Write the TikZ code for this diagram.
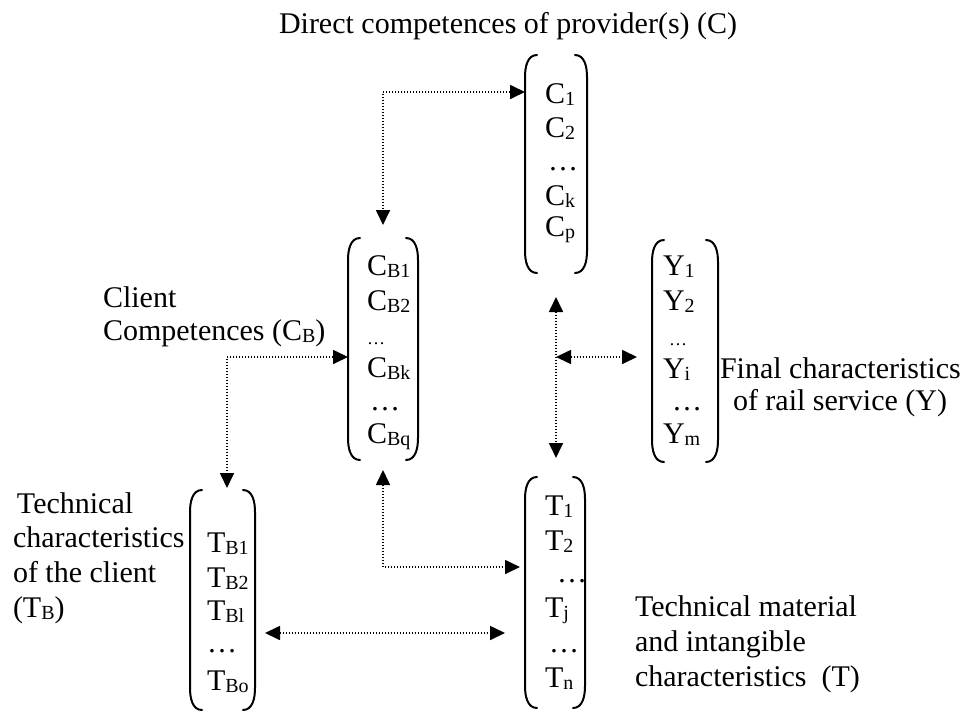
\documentclass[tikz,border=0pt]{standalone}
\usepackage{fontspec}
\setmainfont{Liberation Serif}
\usetikzlibrary{arrows.meta,fit}
\newcommand\mysub[1]{\raisebox{-1.2pt}{\fontsize{10}{10}\selectfont #1}}
\newcommand\smalldots{{\fontsize{9}{9}\selectfont …}}
\newcommand\vecbr[1]{%
  \draw[brk] ([xshift=6pt]#1.north west) to[out=180,in=90] ([yshift=-11pt]#1.north west)
    -- ([yshift=11pt]#1.south west) to[out=-90,in=180] ([xshift=6pt]#1.south west);
  \draw[brk] ([xshift=-6pt]#1.north east) to[out=0,in=90] ([yshift=-11pt]#1.north east)
    -- ([yshift=11pt]#1.south east) to[out=-90,in=0] ([xshift=-6pt]#1.south east);}
\begin{document}
\begin{tikzpicture}[x=0.5pt,y=-0.5pt,
  every node/.style={inner sep=0pt,outer sep=0pt,font=\fontsize{15}{17}\selectfont},
  item/.style={anchor=base west},
  lbl/.style={anchor=base west},
  box/.style={inner sep=0pt,draw=none},
  brk/.style={line width=1pt,line cap=round},
  conn/.style={line width=0.85pt,dash pattern=on 0.6pt off 0.9pt,
    {Triangle[length=7.5pt,width=7pt]}-{Triangle[length=7.5pt,width=7pt]}},
]
\useasboundingbox (0,0) rectangle (974,712);

% C vector
\node[box,fit={(525,55)(587,273)}] (C) {};
\vecbr{C}
\node[item] (c1) at (545,103) {C\mysub{1}};
\node[item] (c2) at (545,137) {C\mysub{2}};
\node[item] (c3) at (548,170) {…};
\node[item] (c4) at (545,205) {C\mysub{k}};
\node[item] (c5) at (545,236) {C\mysub{p}};

% CB vector
\node[box,fit={(348,238)(418,460)}] (CB) {};
\vecbr{CB}
\node[item] (cb1) at (367,275) {C\mysub{B1}};
\node[item] (cb2) at (367,310) {C\mysub{B2}};
\node[item] (cb3) at (367,344) {\smalldots};
\node[item] (cb4) at (367,377) {C\mysub{Bk}};
\node[item] (cb5) at (370,410) {…};
\node[item] (cb6) at (367,443) {C\mysub{Bq}};

% Y vector
\node[box,fit={(652,240)(718,462)}] (Y) {};
\vecbr{Y}
\node[item] (y1) at (663,275) {Y\mysub{1}};
\node[item] (y2) at (663,310) {Y\mysub{2}};
\node[item] (y3) at (669,345) {\smalldots};
\node[item] (y4) at (663,378) {Y\mysub{i}};
\node[item] (y5) at (672,410) {…};
\node[item] (y6) at (663,443) {Y\mysub{m}};

% TB vector
\node[box,fit={(190,490)(255,710)}] (TB) {};
\vecbr{TB}
\node[item] (tb1) at (207,552) {T\mysub{B1}};
\node[item] (tb2) at (207,587) {T\mysub{B2}};
\node[item] (tb3) at (207,620) {T\mysub{Bl}};
\node[item] (tb4) at (207,652) {…};
\node[item] (tb5) at (207,690) {T\mysub{Bo}};

% T vector
\node[box,fit={(525,477)(585,708)}] (T) {};
\vecbr{T}
\node[item] (t1) at (545,515) {T\mysub{1}};
\node[item] (t2) at (545,550) {T\mysub{2}};
\node[item] (t3) at (557,582) {…};
\node[item] (t4) at (545,617) {T\mysub{j}};
\node[item] (t5) at (549,652) {…};
\node[item] (t6) at (545,687) {T\mysub{n}};

% labels
\node[lbl] (title) at (279,33) {Direct competences of provider(s) (C)};
\node[lbl] (cl1) at (103,307) {Client};
\node[lbl] (cl2) at (103,340) {Competences (C\mysub{B})};
\node[lbl] (tbl1) at (17,513) {Technical};
\node[lbl] (tbl2) at (13,547) {characteristics};
\node[lbl] (tbl3) at (13,582) {of the client};
\node[lbl] (tbl4) at (13,617) {(T\mysub{B})};
\node[lbl] (yl1) at (720,378) {Final characteristics};
\node[lbl] (yl2) at (733,410) {of rail service (Y)};
\node[lbl] (tl1) at (635,616) {Technical material};
\node[lbl] (tl2) at (635,651) {and intangible};
\node[lbl] (tl3) at (635,686) {characteristics\ \ (T)};

% connectors
\draw[conn,shorten >=6.5pt] ([yshift=36pt]C.west) -| (CB.north);
\draw[conn,shorten >=1pt] ([yshift=-4pt]CB.west) -| ([xshift=2.25pt]TB.north);
\draw[conn,shorten <=5pt,shorten >=2.5pt] (CB.south) |- ([yshift=12.75pt]T.west);
\draw[conn,shorten <=5pt,shorten >=10pt] ([yshift=-16.5pt]TB.east) -- ([yshift=-16.5pt]TB.east -| T.west);
\draw[conn,shorten <=12pt,shorten >=9.5pt] (C.south) -- (C.south |- T.north);
\coordinate (m) at ([yshift=-3pt]Y.west -| C.south);
\draw[conn,shorten >=7.5pt] (m) -- ([yshift=-3pt]Y.west);
\end{tikzpicture}
\end{document}
